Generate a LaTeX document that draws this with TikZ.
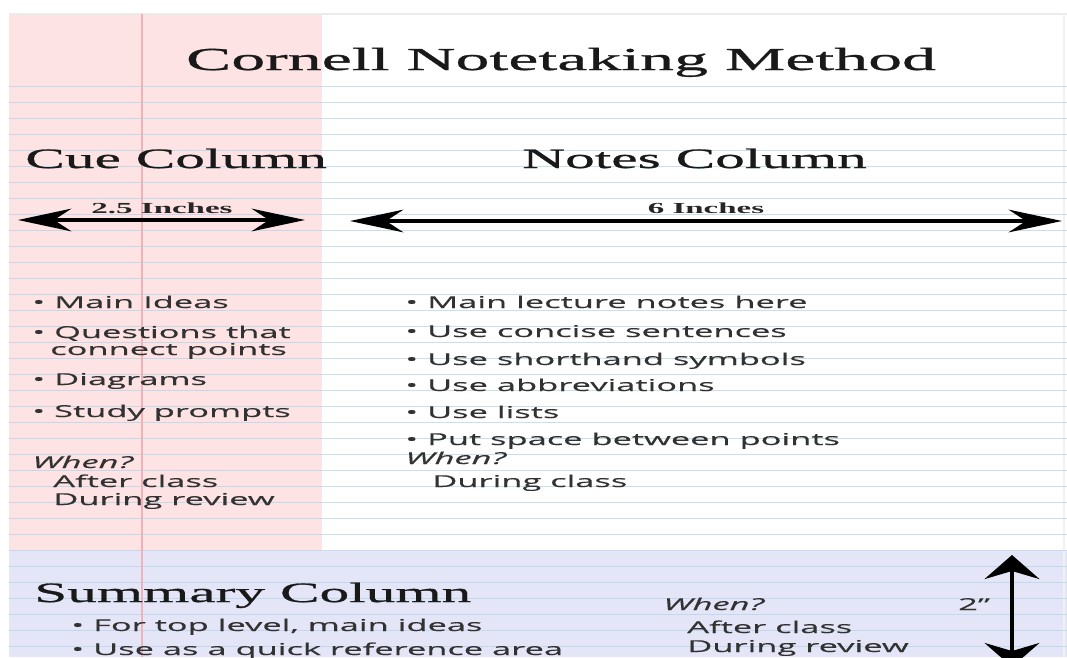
\documentclass[tikz,border=0pt]{standalone}
\usepackage{fontspec}
\setmainfont[FakeStretch=2.15]{Liberation Serif}
\newfontfamily\headserif[FakeStretch=2.12,FakeBold=0.9]{Liberation Serif}
\newfontfamily\notesans[FakeStretch=2.1,FakeBold=0.3]{Open Sans}
\usetikzlibrary{arrows.meta}
\definecolor{cuepink}{RGB}{253,227,227}
\definecolor{sumlilac}{RGB}{229,229,248}
\definecolor{ruleblue}{RGB}{175,212,234}
\definecolor{marginred}{RGB}{238,178,184}
\definecolor{inkgray}{RGB}{50,50,50}

\begin{document}
\begin{tikzpicture}[x=0.75pt,y=-0.75pt,
    ruleline/.style={ruleblue,opacity=0.7,line width=1.1pt},
    heading/.style={font=\headserif\fontsize{21}{24}\selectfont,text=black!90,anchor=base west,inner sep=0pt},
    item/.style={font=\notesans\fontsize{12.3}{14}\selectfont,text=inkgray,anchor=base west,inner sep=0pt},
    whenlabel/.style={item,font=\notesans\itshape\fontsize{12.3}{14}\selectfont},
    inchlabel/.style={font=\bfseries\fontsize{11.5}{13}\selectfont,text=black!85,anchor=base,inner sep=0pt},
    dimarrow/.style={line width=3pt,{Stealth[length=40pt,width=17pt,inset=13pt]}-{Stealth[length=40pt,width=17pt,inset=13pt]}},
    tallarrow/.style={line width=3.6pt,{Stealth[length=18pt,width=41pt,inset=6pt]}-{Stealth[length=18pt,width=41pt,inset=6pt]}}]
  \clip (0,0) rectangle (1067,657);
  \fill[white] (0,0) rectangle (1067,657);
  % paper
  \fill[cuepink] (9,14) rectangle (322,550.7);
  \fill[sumlilac] (9,550.7) rectangle (1067,657);
  \draw[black!8,line width=0.8pt] (9,14) -- (1067,14);
  \draw[black!5,line width=0.8pt] (1064,14) -- (1064,657);
  \foreach \k in {0,...,35}
    \draw[ruleline] (9,86.7+16*\k) -- (1067,86.7+16*\k);
  \draw[marginred,line width=2.2pt] (142,14) -- (142,657);

  % headings
  \node[heading,font=\headserif\fontsize{24}{28}\selectfont,anchor=base] (title) at (561,70) {Cornell Notetaking Method};
  \node[heading] (cuehead) at (25,168) {Cue Column};
  \node[heading] (noteshead) at (522,168) {Notes Column};
  \node[heading] (sumhead) at (34,602) {Summary Column};

  % widths
  \coordinate (cueL) at (18,220);
  \coordinate (cueR) at (305,220);
  \coordinate (notesL) at (350,221);
  \coordinate (notesR) at (1062,221);
  \coordinate (sumT) at (1012,555);
  \coordinate (sumB) at (1012,667);
  \draw[dimarrow] (cueL) -- (cueR);
  \draw[dimarrow] (notesL) -- (notesR);
  \draw[tallarrow] (sumT) -- (sumB);
  \node[inchlabel] (cuewidth) at (162,213) {2.5 Inches};
  \node[inchlabel] (noteswidth) at (706,213) {6 Inches};
  \node[item] (sumheight) at (958,610) {2”};

  % cue column
  \foreach \y/\t [count=\i] in {308/Main Ideas,338/Questions that,385/Diagrams,417/Study prompts}
    \node[item] (cue\i) at (32,\y) {•\ \t};
  \node[item] (cue2b) at (50,355) {connect points};
  \node[whenlabel] (cuewhen) at (32,468) {When?};
  \node[item] (cuewhen1) at (53,487) {After class};
  \node[item] (cuewhen2) at (53,505) {During review};

  % notes column
  \foreach \y/\t [count=\i] in {308/Main lecture notes here,337/Use concise sentences,365/Use shorthand symbols,
      391/Use abbreviations,418/Use lists,445/Put space between points}
    \node[item] (note\i) at (405,\y) {•\ \t};
  \node[whenlabel] (noteswhen) at (405,464) {When?};
  \node[item] (noteswhen1) at (432,487) {During class};

  % summary
  \node[item] (sum1) at (71,631) {•\ For top level, main ideas};
  \node[item] (sum2) at (71,655) {•\ Use as a quick reference area};
  \node[whenlabel] (sumwhen) at (663,610) {When?};
  \node[item] (sumwhen1) at (687,633) {After class};
  \node[item] (sumwhen2) at (687,652) {During review};
\end{tikzpicture}
\end{document}
